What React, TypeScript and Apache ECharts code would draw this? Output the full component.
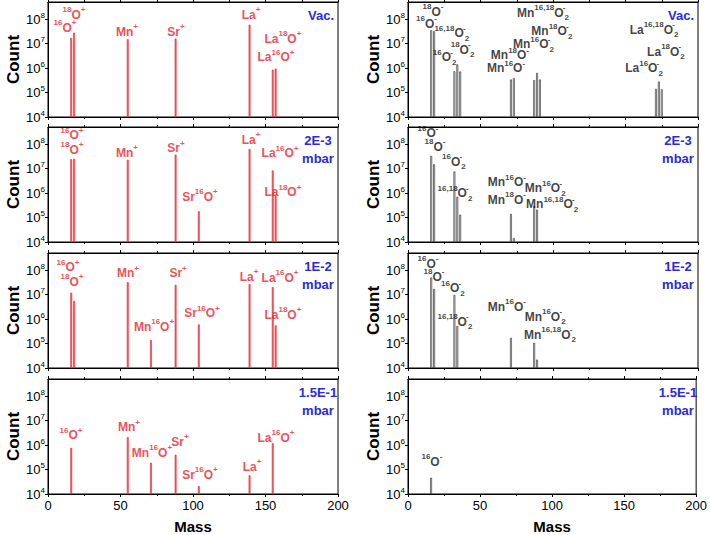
import React, { useEffect, useRef } from 'react';
import * as echarts from 'echarts';

// ---------- data ----------
const posMasses = [16, 18, 55, 71, 88, 104, 139, 155, 157];
const posVac = [1.7e7, 2.8e7, 1.5e7, null, 1.6e7, null, 5.9e7, 8.5e5, 9.5e5];
const pos2E3 = [2.4e7, 2.5e7, 2.3e7, null, 3.7e7, 1.8e5, 6.3e7, 8.3e6, 8e5];
const pos1E2 = [1.2e7, 5.5e6, 3.2e7, 1.4e5, 2.5e7, 6e5, 2.7e7, 2e7, 5.5e5];
const pos15E1 = [7.7e5, null, 2.1e6, 1.9e5, 4e5, 2.1e4, 5.8e4, 1.2e6, null];

const negMasses = [16, 18, 32, 34, 36, 71, 73, 87, 89, 91, 171, 173, 175];
const negVac = [3.5e7, 3.2e7, 7.4e5, 1.4e6, 7.2e5, 3.4e5, 3.9e5, 3.2e5, 6.3e5, 3.4e5, 1.4e5, 2.8e5, 1.35e5];
const neg2E3 = [3.3e7, 1.5e7, 7.6e6, 7e5, 1.3e5, 1.4e5, 1.45e4, 3e5, 2.1e5, null, null, null, null];
const neg1E2 = [5e7, 1.7e7, 9.7e6, 5.2e5, null, 1.7e5, null, 1.07e5, 2.2e4, null, null, null, null];
const neg15E1 = [4.6e4, null, null, null, null, null, null, null, null, null, null, null, null];

const conditions = ['Vac.', '2E-3\nmbar', '1E-2\nmbar', '1.5E-1\nmbar'];

// peak labels: [rich text, mass, log10(count)]
const posLabelsVac = [
  ['{u|18}O{u|+}', 17.9, 8.17],
  ['{u|16}O{u|+}', 11.7, 7.64],
  ['Mn{u|+}', 54.5, 7.49],
  ['Sr{u|+}', 88.3, 7.49],
  ['La{u|+}', 140, 8.17],
  ['La{u|18}O{u|+}', 162, 7.19],
  ['La{u|16}O{u|+}', 157.2, 6.45],
];
const posLabels2E3 = [
  ['{u|16}O{u|+}', 16.6, 8.37],
  ['{u|18}O{u|+}', 16.6, 7.76],
  ['Mn{u|+}', 54.5, 7.65],
  ['Sr{u|+}', 88.3, 7.83],
  ['Sr{u|16}O{u|+}', 104.8, 5.85],
  ['La{u|+}', 140, 8.17],
  ['La{u|16}O{u|+}', 160, 7.62],
  ['La{u|18}O{u|+}', 162, 6.03],
];
const posLabels1E2 = [
  ['{u|16}O{u|+}', 13.8, 8.12],
  ['{u|18}O{u|+}', 16.6, 7.53],
  ['Mn{u|+}', 55.2, 7.87],
  ['Sr{u|+}', 89.7, 7.87],
  ['La{u|+}', 138.6, 7.73],
  ['La{u|16}O{u|+}', 160, 7.69],
  ['Mn{u|16}O{u|+}', 73.1, 5.69],
  ['Sr{u|16}O{u|+}', 106.2, 6.24],
  ['La{u|18}O{u|+}', 162, 6.17],
];
const posLabels15E1 = [
  ['{u|16}O{u|+}', 15.9, 6.41],
  ['Mn{u|+}', 55.9, 6.73],
  ['Mn{u|16}O{u|+}', 71.7, 5.69],
  ['Sr{u|+}', 91, 6.14],
  ['Sr{u|16}O{u|+}', 104.8, 4.78],
  ['La{u|+}', 140.7, 5.12],
  ['La{u|16}O{u|+}', 157.2, 6.3],
];
const negLabelsVac = [
  ['{u|18}O{u|-}', 17.2, 8.3],
  ['{u|16}O{u|-}', 12.8, 7.82],
  ['{u|16,18}O{z|-}{d|2}', 30.2, 7.43],
  ['{u|18}O{z|-}{d|2}', 37.6, 6.74],
  ['{u|16}O{z|-}{d|2}', 25.3, 6.45],
  ['Mn{u|16,18}O{z|-}{d|2}', 93.1, 8.25],
  ['Mn{u|18}O{z|-}{d|2}', 99.2, 7.5],
  ['Mn{u|16}O{z|-}{d|2}', 86.5, 6.98],
  ['Mn{u|18}O{u|-}', 70.3, 6.53],
  ['Mn{u|16}O{u|-}', 67.6, 6.0],
  ['La{u|16,18}O{z|-}{d|2}', 169.7, 7.56],
  ['La{u|18}O{z|-}{d|2}', 177.9, 6.66],
  ['La{u|16}O{z|-}{d|2}', 162.8, 6.0],
];
const negLabels2E3 = [
  ['{u|16}O{u|-}', 13.8, 8.45],
  ['{u|18}O{u|-}', 18.6, 7.89],
  ['{u|16}O{z|-}{d|2}', 31.7, 7.28],
  ['{u|16,18}O{z|-}{d|2}', 32.4, 5.99],
  ['Mn{u|16}O{u|-}', 68.2, 6.44],
  ['Mn{u|18}O{u|-}', 68.2, 5.72],
  ['Mn{u|16}O{z|-}{d|2}', 94.6, 6.19],
  ['Mn{u|16,18}O{z|-}{d|2}', 99.4, 5.55],
];
const negLabels1E2 = [
  ['{u|16}O{u|-}', 13.8, 8.25],
  ['{u|18}O{u|-}', 17.9, 7.73],
  ['{u|16}O{z|-}{d|2}', 31, 7.26],
  ['{u|16,18}O{z|-}{d|2}', 32.4, 5.89],
  ['Mn{u|16}O{u|-}', 68.2, 6.5],
  ['Mn{u|16}O{z|-}{d|2}', 94.6, 6.1],
  ['Mn{u|16,18}O{z|-}{d|2}', 97.9, 5.35],
];
const negLabels15E1 = [['{u|16}O{u|-}', 16.6, 5.32]];

const posRows = [posVac, pos2E3, pos1E2, pos15E1];
const negRows = [negVac, neg2E3, neg1E2, neg15E1];
const posLabelRows = [posLabelsVac, posLabels2E3, posLabels1E2, posLabels15E1];
const negLabelRows = [negLabelsVac, negLabels2E3, negLabels1E2, negLabels15E1];

// ---------- layout / style ----------
const FONT = 'Arial, "Liberation Sans", Helvetica, sans-serif';
const ROW_TOP = [2, 127, 253, 379];
const ROW_H = 115;
const COL_LEFT = [48, 408];
const COL_W = 290;
const RED = '#e8222a';
const BLUE = '#2a2ae0';

function pairs(masses: number[], counts: (number | null)[]) {
  const out: number[][] = [];
  masses.forEach((m, i) => {
    const v = counts[i];
    if (v != null) out.push([m, v]);
  });
  return out;
}

function richFor(color: string) {
  return {
    u: { fontSize: 8, fontWeight: 'bold', color, fontFamily: FONT, verticalAlign: 'top', lineHeight: 8 },
    z: { fontSize: 8, fontWeight: 'bold', color, fontFamily: FONT, verticalAlign: 'top', lineHeight: 8, width: 1 },
    d: { fontSize: 8, fontWeight: 'bold', color, fontFamily: FONT, verticalAlign: 'bottom', lineHeight: 8 },
  };
}

export default function App() {
  const ref = useRef<HTMLDivElement>(null);
  useEffect(() => {
    if (!ref.current) return;
    const chart = echarts.init(ref.current, null, { renderer: 'svg' });
    const grids: any[] = [];
    const xBottom: any[] = [];
    const xTop: any[] = [];
    const yAxes: any[] = [];
    const series: any[] = [];
    const graphics: any[] = [];

    for (let r = 0; r < 4; r++) {
      for (let c = 0; c < 2; c++) {
        const i = r * 2 + c;
        const isLast = r === 3;
        grids.push({
          left: COL_LEFT[c], top: ROW_TOP[r], width: COL_W, height: ROW_H,
          show: true, borderColor: '#000', borderWidth: 1, backgroundColor: 'transparent',
        });
        const baseX = {
          type: 'value', gridIndex: i, min: 0, max: 200, interval: 50,
          axisLine: { show: true, lineStyle: { color: '#000', width: 1 } },
          axisTick: { show: true, inside: false, length: 3, lineStyle: { color: '#000' } },
          minorTick: { show: true, splitNumber: 2, length: 2, lineStyle: { color: '#000' } },
          splitLine: { show: false },
          minorSplitLine: { show: false },
        };
        xBottom.push({
          ...baseX,
          position: 'bottom',
          axisLabel: { show: isLast, color: '#000', fontSize: 13, fontFamily: FONT, margin: 5 },
          name: isLast ? 'Mass' : '',
          nameLocation: 'middle',
          nameGap: 25,
          nameTextStyle: { color: '#000', fontSize: 15, fontWeight: 'bold', fontFamily: FONT },
        });
        xTop.push({
          ...baseX,
          position: 'top',
          axisLabel: { show: false },
        });
        yAxes.push({
          type: 'log', logBase: 10, gridIndex: i, min: 1e4, max: 5e8,
          axisLine: { show: true, lineStyle: { color: '#000', width: 1 } },
          axisTick: { show: true, inside: false, length: 3, lineStyle: { color: '#000' } },
          splitLine: { show: false },
          axisLabel: {
            show: true, showMaxLabel: false, margin: 3, color: '#000',
            formatter: (v: number) => `{b|10}{s|${Math.round(Math.log10(v))}}`,
            rich: {
              b: { fontSize: 13, fontFamily: FONT, color: '#000', lineHeight: 16 },
              s: { fontSize: 8, fontFamily: FONT, color: '#000', verticalAlign: 'top', lineHeight: 8 },
            },
          },
          name: 'Count',
          nameLocation: 'middle',
          nameRotate: 90,
          nameGap: 19,
          nameTextStyle: { color: '#000', fontSize: 17, fontWeight: 'bold', fontFamily: FONT },
        });

        const isPos = c === 0;
        const masses = isPos ? posMasses : negMasses;
        const counts = isPos ? posRows[r] : negRows[r];
        series.push({
          type: 'bar',
          xAxisIndex: i, yAxisIndex: i,
          data: pairs(masses, counts),
          barWidth: 1.8,
          clip: true,
          silent: true,
          itemStyle: isPos
            ? { color: '#f06a6a', borderColor: RED, borderWidth: 0.6 }
            : { color: '#e4e4e4', borderColor: '#222', borderWidth: 0.6 },
        });
        const labels = isPos ? posLabelRows[r] : negLabelRows[r];
        const txtColor = isPos ? RED : '#111';
        series.push({
          type: 'scatter',
          xAxisIndex: i, yAxisIndex: i,
          symbol: 'circle', symbolSize: 1,
          silent: true,
          itemStyle: { color: 'rgba(0,0,0,0)' },
          z: 5,
          data: labels.map((l: any) => ({ name: l[0], value: [l[1], Math.pow(10, l[2])] })),
          label: {
            show: true, position: 'inside',
            formatter: (p: any) => p.name,
            color: txtColor, fontSize: 12, fontWeight: 'bold', fontFamily: FONT, lineHeight: 18,
            rich: richFor(txtColor),
          },
        });

        graphics.push({
          type: 'text',
          x: COL_LEFT[c] + COL_W - (r === 0 ? 17 : 20),
          y: ROW_TOP[r] + 4,
          silent: true,
          style: {
            text: conditions[r], fill: BLUE, font: `bold 13px ${FONT}`,
            textAlign: 'center', textVerticalAlign: 'top', lineHeight: 18,
          },
        });
      }
    }

    chart.setOption({
      animation: false,
      backgroundColor: '#fff',
      grid: grids,
      xAxis: [...xBottom, ...xTop],
      yAxis: yAxes,
      series,
      graphic: graphics,
    });
    return () => chart.dispose();
  }, []);
  return <div ref={ref} style={{ position: 'absolute', left: 0, top: 0, width: 710, height: 535 }} />;
}
